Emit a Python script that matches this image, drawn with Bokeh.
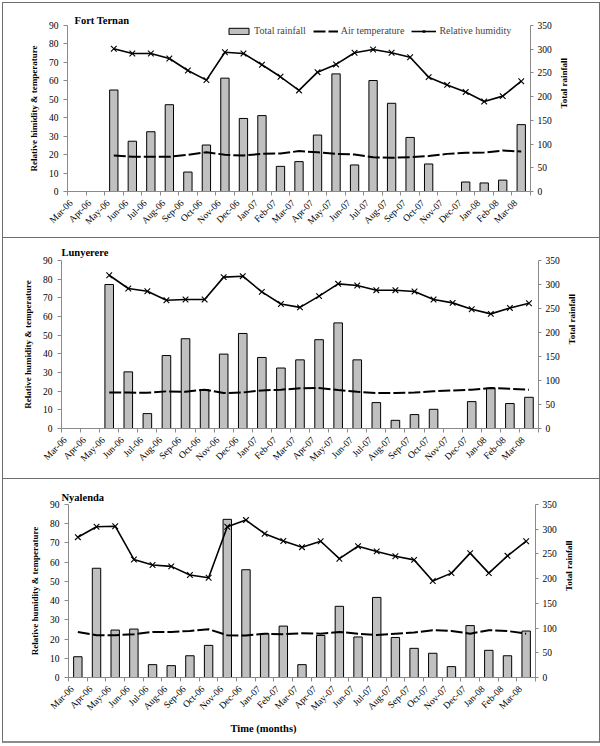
import math
import numpy as np
from bokeh.plotting import figure
from bokeh.models import (Range1d, LinearAxis, FixedTicker, Legend, LegendItem,
                          ColumnDataSource, Title)
from bokeh.layouts import column
from bokeh.embed import file_html
from bokeh.resources import INLINE

nan = float("nan")

months = ["Mar-06", "Apr-06", "May-06", "Jun-06", "Jul-06", "Aug-06", "Sep-06",
          "Oct-06", "Nov-06", "Dec-06", "Jan-07", "Feb-07", "Mar-07", "Apr-07",
          "May-07", "Jun-07", "Jul-07", "Aug-07", "Sep-07", "Oct-07", "Nov-07",
          "Dec-07", "Jan-08", "Feb-08", "Mar-08"]

# Fort Ternan
ft_rain = [nan, nan, 214, 106, 126, 183, 41, 98, 239, 154, 160, 53, 63, 119,
           248, 56, 234, 186, 114, 58, nan, 20, 18, 24, 141]
ft_rh = [nan, nan, 77.4, 74.8, 74.8, 72.1, 65.6, 60.4, 75.5, 74.8, 68.7, 62.2,
         54.8, 64.7, 68.9, 75.2, 77.0, 75.2, 72.8, 62.0, 57.8, 53.9, 48.8, 51.7, 59.8]
ft_temp = [nan, nan, 19.5, 18.8, 18.8, 18.8, 19.9, 21.3, 19.9, 19.5, 20.4, 20.6,
           21.9, 21.3, 20.4, 20.1, 18.6, 18.3, 18.6, 19.2, 20.4, 21.0, 21.1, 22.2, 21.7]

# Lunyerere
lu_rain = [nan, nan, 300, 118, 31, 152, 187, 81, 155, 198, 148, 126, 143, 185,
           220, 143, 54, 17, 29, 40, nan, 56, 84, 52, 65]
lu_rh = [nan, nan, 82.1, 75.0, 73.5, 68.7, 69.1, 69.1, 81.1, 81.6, 73.2, 66.7,
         64.9, 70.9, 77.5, 76.6, 74.1, 74.1, 73.4, 69.1, 67.3, 63.9, 61.4, 64.6, 67.1]
lu_temp = [nan, nan, 19.3, 19.3, 19.1, 19.9, 19.7, 20.8, 19.0, 19.3, 20.4, 20.8,
           21.5, 21.7, 20.6, 19.7, 19.0, 19.0, 19.3, 19.9, 20.4, 20.8, 21.7, 21.3, 20.8]

# Nyalenda
ny_rain = [42, 221, 96, 98, 26, 24, 44, 65, 320, 218, 89, 104, 26, 85, 144, 82,
           162, 81, 59, 49, 22, 105, 55, 44, 94]
ny_rh = [73.0, 78.4, 78.7, 61.4, 58.5, 57.8, 53.3, 51.9, 78.4, 81.9, 74.8, 71.0,
         67.8, 70.9, 61.8, 68.3, 65.6, 63.1, 61.2, 50.2, 54.3, 64.7, 54.3, 63.3, 70.9]
ny_temp = [23.7, 22.0, 22.0, 22.5, 23.7, 23.7, 24.2, 25.1, 22.0, 21.8, 22.8, 22.5,
           23.0, 22.8, 23.7, 22.8, 22.1, 22.8, 23.4, 24.6, 24.2, 22.8, 24.6, 24.2, 22.8]

left_ticks = list(range(0, 91, 10))
right_ticks = list(range(0, 351, 50))

FONT = "Liberation Serif"
AXIS_GRAY = "#8a8a8a"
BORDER = "1px solid #6e6e6e"
FIG_W = 596
LABEL_SHIFT = 0.3   # rotated month labels sit a little left of the category centre


def style_axis(ax, label_size="9px"):
    ax.axis_line_color = AXIS_GRAY
    ax.major_tick_line_color = AXIS_GRAY
    ax.minor_tick_line_color = AXIS_GRAY
    ax.major_label_text_font = FONT
    ax.major_label_text_font_size = "9.5px"
    ax.major_label_text_color = "black"
    ax.axis_label_text_font = FONT
    ax.axis_label_text_font_style = "bold"
    ax.axis_label_text_font_size = label_size
    ax.axis_label_text_color = "black"


def make_panel(name, ylabel, rain, rh, temp, height, borders, title_off,
               legend=False, xlabel=None):
    n = len(months)
    xs = np.arange(n) + 0.5
    src = ColumnDataSource(dict(x=xs, rain=np.array(rain, dtype=float),
                                rh=np.array(rh, dtype=float),
                                temp=np.array(temp, dtype=float)))
    p = figure(width=FIG_W, height=height, output_backend="svg",
               toolbar_location=None, x_range=Range1d(0, n),
               y_range=Range1d(0, 90), title=name,
               min_border_left=borders[0], min_border_right=borders[1],
               min_border_top=borders[2], min_border_bottom=borders[3])
    p.extra_y_ranges = {"rain": Range1d(0, 350)}
    p.xgrid.visible = False
    p.ygrid.visible = False
    p.outline_line_color = None
    p.background_fill_color = "white"
    p.border_fill_color = "white"

    p.title.text_font = FONT
    p.title.text_font_style = "bold"
    p.title.text_font_size = "10.5px"
    p.title.text_color = "black"
    p.title.align = "left"
    p.title.offset = title_off[0]
    p.title.standoff = title_off[1]

    xa = p.xaxis[0]
    label_pos = [float(v - LABEL_SHIFT) for v in xs]
    xa.ticker = FixedTicker(ticks=label_pos, minor_ticks=list(range(n + 1)))
    xa.major_label_overrides = {v: m for v, m in zip(label_pos, months)}
    xa.major_label_orientation = math.pi / 4
    style_axis(xa, "10px")
    xa.major_tick_line_color = None
    xa.major_tick_out = 0
    xa.major_tick_in = 0
    xa.minor_tick_out = 4
    xa.minor_tick_in = 0
    xa.major_label_standoff = 6

    ya = p.yaxis[0]
    ya.ticker = FixedTicker(ticks=left_ticks)
    style_axis(ya)
    ya.major_tick_out = 4
    ya.major_tick_in = 0
    ya.axis_label = ylabel
    ya.axis_label_standoff = 7
    ya.major_label_standoff = 5

    ra = LinearAxis(y_range_name="rain", ticker=FixedTicker(ticks=right_ticks),
                    axis_label="Total rainfall")
    style_axis(ra)
    ra.major_tick_out = 3
    ra.major_tick_in = 0
    ra.axis_label_standoff = 9
    ra.major_label_standoff = 4
    try:
        ra.axis_label_orientation = math.pi / 2
    except Exception:
        pass
    p.add_layout(ra, "right")

    bars = p.vbar(x="x", top="rain", bottom=0, width=0.45, source=src,
                  y_range_name="rain", fill_color="#c0c0c0",
                  line_color="black", line_width=1)
    tline = p.line("x", "temp", source=src, line_color="black",
                   line_width=2, line_dash="12 3")
    hline = p.line("x", "rh", source=src, line_color="black", line_width=1.6)
    hpts = p.scatter("x", "rh", source=src, marker="x", size=8,
                     line_color="black", line_width=1.1)

    if xlabel:
        p.add_layout(Title(text=xlabel, align="left", offset=162, standoff=4,
                           text_font=FONT, text_font_style="bold",
                           text_font_size="10.5px", text_color="black"), "below")

    if legend:
        frame_h = height - borders[2] - borders[3]
        lg = Legend(items=[LegendItem(label="Total rainfall", renderers=[bars]),
                           LegendItem(label="Air temperature", renderers=[tline]),
                           LegendItem(label="Relative humidity",
                                      renderers=[hline, hpts])],
                    orientation="horizontal",
                    location=(159, frame_h - 11),
                    background_fill_alpha=0, border_line_color=None,
                    label_text_font=FONT, label_text_font_size="10px",
                    glyph_width=25, glyph_height=8, label_height=10,
                    label_standoff=3, spacing=7, padding=0, margin=0)
        p.add_layout(lg)
    return p


p1 = make_panel("Fort Ternan", "Relative himidity & temperature",
                ft_rain, ft_rh, ft_temp, 234, (64, 69, 22, 46), (7, -1),
                legend=True)
p2 = make_panel("Lunyerere", "Relative humidity & temperature",
                lu_rain, lu_rh, lu_temp, 240, (58, 61, 22, 50), (0, 5))
p3 = make_panel("Nyalenda", "Relative humidity & temperature",
                ny_rain, ny_rh, ny_temp, 262, (65, 64, 25, 64), (-7, 4),
                xlabel="Time (months)")

w1 = column(p1, styles={"border": BORDER, "margin-left": "2px", "margin-top": "2px"})
w2 = column(p2, styles={"border-left": BORDER, "border-right": BORDER,
                        "border-bottom": BORDER, "margin-left": "2px"})
w3 = column(p3, styles={"border-left": BORDER, "border-right": BORDER,
                        "border-bottom": "2px solid #8c8c8c", "margin-left": "2px"})

layout = column(w1, w2, w3, spacing=0)

open("out.html", "w").write(file_html(layout, INLINE))
